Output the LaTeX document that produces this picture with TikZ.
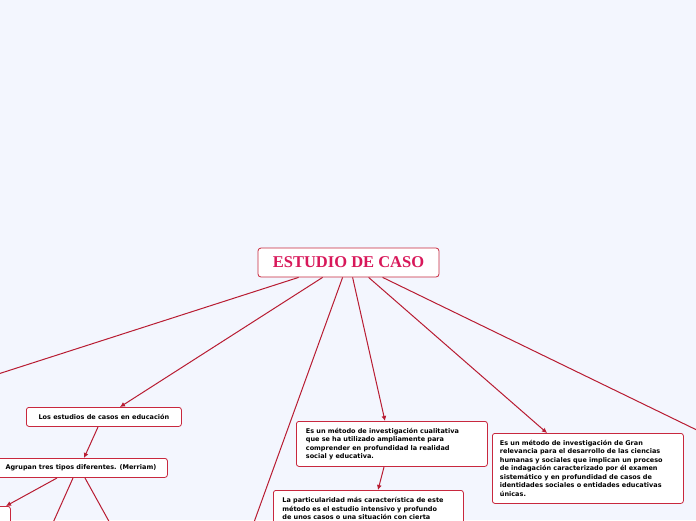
\documentclass[tikz,border=0pt]{standalone}
\usepackage{fontspec}
\usetikzlibrary{arrows.meta}
\setmainfont{DejaVu Sans}
\newfontfamily\titlefont{Liberation Serif}
\definecolor{bg}{HTML}{F3F6FE}
\definecolor{ln}{HTML}{B81C32}
\definecolor{tt}{HTML}{D8185A}
\definecolor{bd}{HTML}{C8283E}
\begin{document}
\begin{tikzpicture}[x=1pt,y=-1pt,
  box/.style={draw=bd,fill=white,rounded corners=2.5pt,line width=0.8pt,anchor=north west,align=left,font=\bfseries\fontsize{6.5}{8.5}\selectfont,inner xsep=6pt,inner ysep=4pt},
  conn/.style={draw=ln,line width=1pt},
  arr/.style={conn,-{Latex[length=5pt,width=5pt]}}]
\useasboundingbox[fill=bg] (0,0) rectangle (696,520);
\clip (0,0) rectangle (696,520);
\node[draw=bd,fill=white,rounded corners=3pt,line width=0.8pt,minimum width=181pt,minimum height=29pt,font=\titlefont\bfseries\fontsize{16.5}{18}\selectfont,text=tt] (title) at (348.5,262.5) {ESTUDIO DE CASO};
\node[box,minimum width=155pt,minimum height=19pt] (edu) at (26,407) {Los estudios de casos en educación};
\node[box,minimum width=177pt,minimum height=19pt,inner xsep=0pt] (agr) at (-10,458) {\hspace*{10pt}Agrupan tres tipos diferentes. (Merriam)\hspace*{6pt}};
\node[box,minimum width=20pt,minimum height=30pt] (lb) at (-10,506) {};
\node[box,text width=172pt,minimum width=191pt,minimum height=45pt] (cual) at (296,421) {Es un método de investigación cualitativa\\que se ha utilizado ampliamente para\\comprender en profundidad la realidad\\social y educativa.};
\node[box,text width=172pt,minimum width=190pt,minimum height=45pt] (part) at (273,490) {La particularidad más característica de este\\método es el estudio intensivo y profundo\\de unos casos o una situación con cierta\\intensidad};
\node[box,text width=176pt,minimum width=191pt,minimum height=70pt] (rel) at (492,433) {Es un método de investigación de Gran\\relevancia para el desarrollo de las ciencias\\humanas y sociales que implican un proceso\\de indagación caracterizado por él examen\\sistemático y en profundidad de casos de\\identidades sociales o entidades educativas\\únicas.};
\coordinate (o1) at (-5,375);
\coordinate (o2) at (253,525);
\coordinate (o3) at (705,434);
\coordinate (o4) at (52,525);
\coordinate (o5) at (111,525);
\draw[conn] ([xshift=41pt]title.south west) -- (o1);
\draw[arr] ([xshift=65pt]title.south west) -- (edu.north -| 120,0);
\draw[conn] ([xshift=85pt]title.south west) -- (o2);
\draw[arr] ([xshift=95pt]title.south west) -- (385,421);
\draw[arr] ([xshift=111pt]title.south west) -- (547,433);
\draw[conn] ([xshift=125pt]title.south west) -- (o3);
\draw[arr] (98,427) -- (84,458);
\draw[arr] (57,478) -- (6,506);
\draw[conn] (73,478) -- (o4);
\draw[conn] (85,478) -- (o5);
\draw[arr] (384,467) -- (378,490);
\end{tikzpicture}
\end{document}
